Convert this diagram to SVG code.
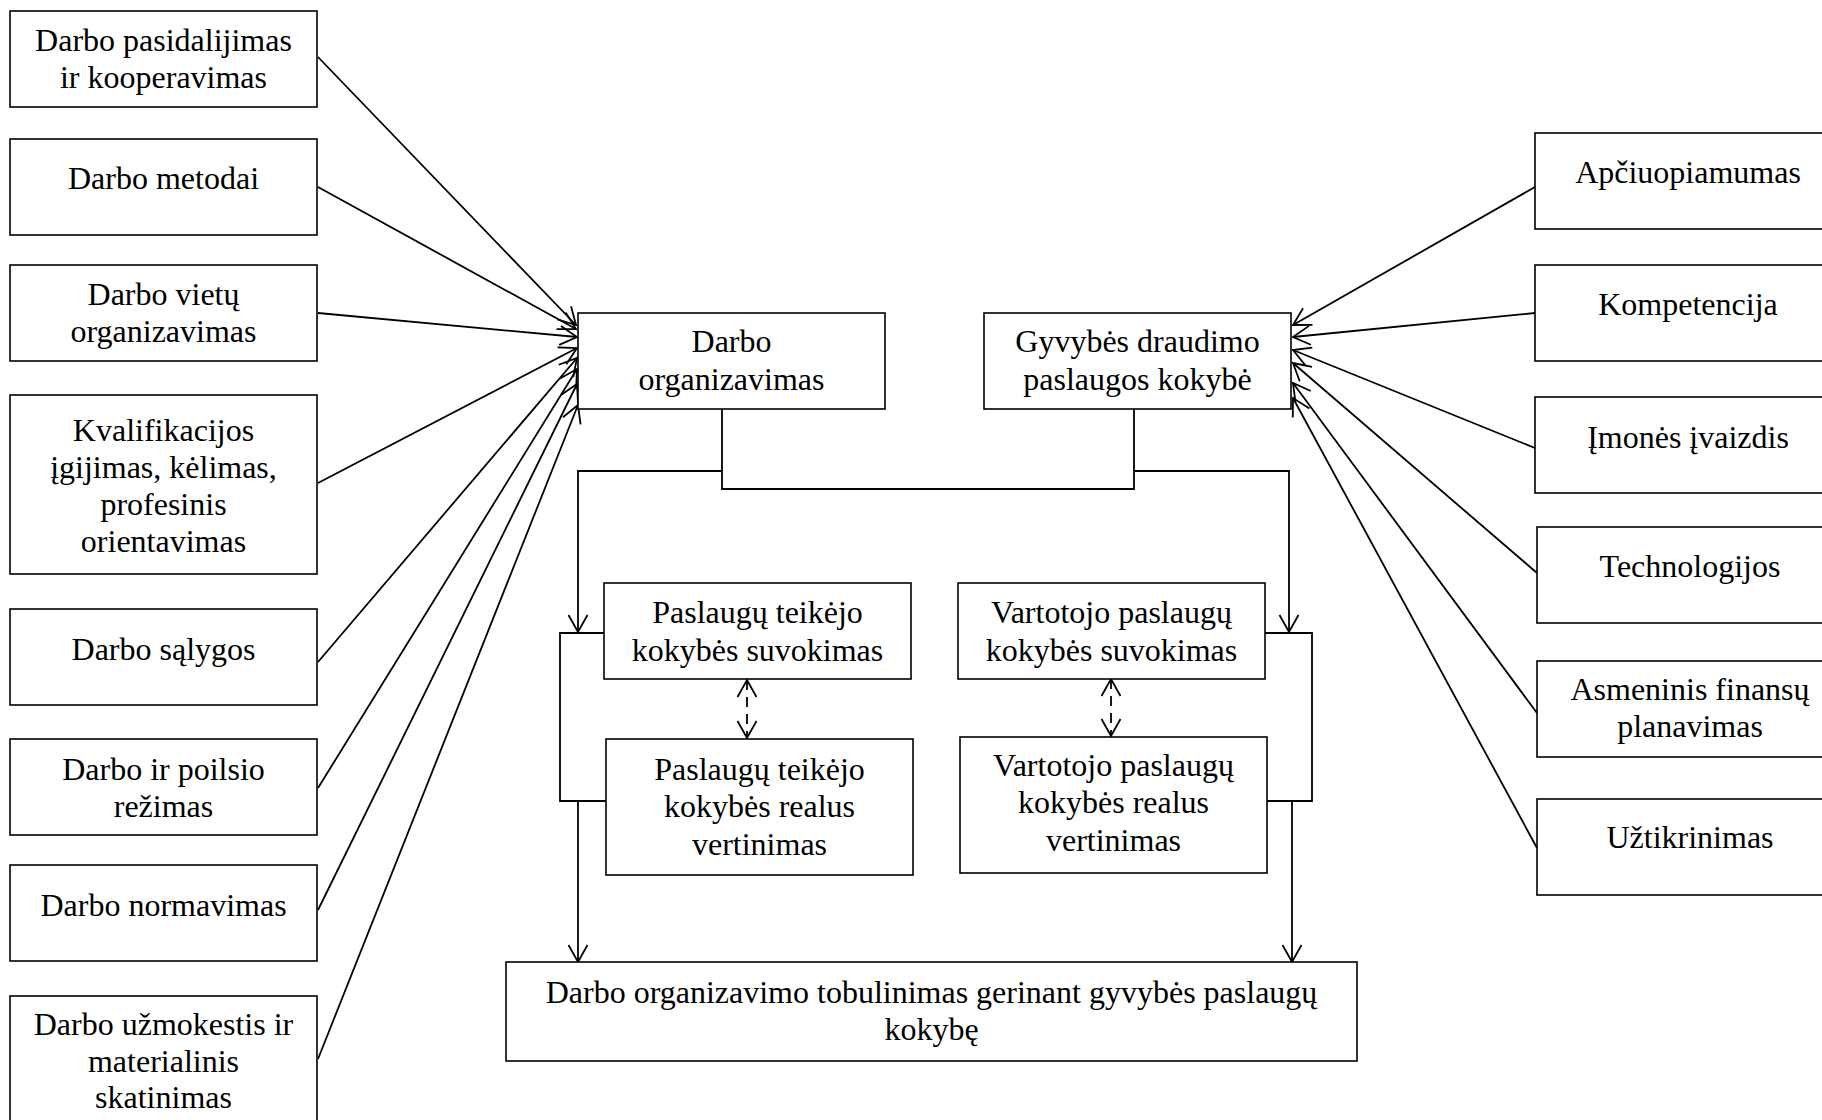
<svg xmlns="http://www.w3.org/2000/svg" width="1822" height="1120" viewBox="0 0 1822 1120">
<style>
.box{fill:#fff;stroke:#000;stroke-width:1.6}
.t{font-family:"Liberation Serif","Times New Roman",serif;font-size:32px;fill:#000;text-anchor:middle}
.c{fill:none;stroke:#000;stroke-width:1.8}
.d{fill:none;stroke:#000;stroke-width:1.8;stroke-dasharray:10 7}
</style>
<defs>
<marker id="ah" markerUnits="userSpaceOnUse" markerWidth="40" markerHeight="40" refX="0" refY="0" viewBox="-20 -20 40 40" orient="auto-start-reverse">
<path d="M-17,-9.5 L0,0 L-17,9.5" fill="none" stroke="#000" stroke-width="1.8"/>
</marker>
</defs>
<rect width="1822" height="1120" fill="#fff"/>

<g id="connectors">
<path class="c" d="M318,57 L576,325" marker-end="url(#ah)"/>
<path class="c" d="M318,187 L576,329" marker-end="url(#ah)"/>
<path class="c" d="M318,313 L577,337" marker-end="url(#ah)"/>
<path class="c" d="M318,483 L577,348" marker-end="url(#ah)"/>
<path class="c" d="M318,662 L577,358" marker-end="url(#ah)"/>
<path class="c" d="M318,788 L577,369" marker-end="url(#ah)"/>
<path class="c" d="M318,910 L577,384" marker-end="url(#ah)"/>
<path class="c" d="M318,1059 L578,405" marker-end="url(#ah)"/>

<path class="c" d="M1535,187 L1293,325" marker-end="url(#ah)"/>
<path class="c" d="M1535,313 L1293,337" marker-end="url(#ah)"/>
<path class="c" d="M1535,448 L1293,350" marker-end="url(#ah)"/>
<path class="c" d="M1537,573 L1293,363" marker-end="url(#ah)"/>
<path class="c" d="M1537,713 L1293,383" marker-end="url(#ah)"/>
<path class="c" d="M1537,848 L1293,398" marker-end="url(#ah)"/>

<path class="c" d="M722,409 V489 H1134 V409"/>
<path class="c" d="M722,471 H578 V632" marker-end="url(#ah)"/>
<path class="c" d="M1134,471 H1289 V632" marker-end="url(#ah)"/>
<path class="c" d="M604,633 H560 V801 H606"/>
<path class="c" d="M1265,633 H1312 V801 H1267"/>
<path class="c" d="M578,801 V962" marker-end="url(#ah)"/>
<path class="c" d="M1292,801 V962" marker-end="url(#ah)"/>
<path class="d" d="M747,680 V738" marker-start="url(#ah)" marker-end="url(#ah)"/>
<path class="d" d="M1111,679 V736" marker-start="url(#ah)" marker-end="url(#ah)"/>
</g>

<g id="n-pasidalijimas"><rect class="box" x="10" y="11" width="307" height="96"/>
<text class="t" x="163.5" y="51">Darbo pasidalijimas</text><text class="t" x="163.5" y="88">ir kooperavimas</text></g>
<g id="n-metodai"><rect class="box" x="10" y="139" width="307" height="96"/>
<text class="t" x="163.5" y="189">Darbo metodai</text></g>
<g id="n-vietu"><rect class="box" x="10" y="265" width="307" height="96"/>
<text class="t" x="163.5" y="305">Darbo vietų</text><text class="t" x="163.5" y="342">organizavimas</text></g>
<g id="n-kvalifikacija"><rect class="box" x="10" y="395" width="307" height="179"/>
<text class="t" x="163.5" y="441">Kvalifikacijos</text><text class="t" x="163.5" y="478">įgijimas, kėlimas,</text><text class="t" x="163.5" y="515">profesinis</text><text class="t" x="163.5" y="552">orientavimas</text></g>
<g id="n-salygos"><rect class="box" x="10" y="609" width="307" height="96"/>
<text class="t" x="163.5" y="660">Darbo sąlygos</text></g>
<g id="n-poilsio"><rect class="box" x="10" y="739" width="307" height="96"/>
<text class="t" x="163.5" y="780">Darbo ir poilsio</text><text class="t" x="163.5" y="817">režimas</text></g>
<g id="n-normavimas"><rect class="box" x="10" y="865" width="307" height="96"/>
<text class="t" x="163.5" y="916">Darbo normavimas</text></g>
<g id="n-uzmokestis"><rect class="box" x="10" y="996" width="307" height="160"/>
<text class="t" x="163.5" y="1035">Darbo užmokestis ir</text><text class="t" x="163.5" y="1072">materialinis</text><text class="t" x="163.5" y="1108">skatinimas</text></g>

<g id="n-darbo-org"><rect class="box" x="578" y="313" width="307" height="96"/>
<text class="t" x="731.5" y="352">Darbo</text><text class="t" x="731.5" y="390">organizavimas</text></g>
<g id="n-gyvybes"><rect class="box" x="984" y="313" width="307" height="96"/>
<text class="t" x="1137.5" y="352">Gyvybės draudimo</text><text class="t" x="1137.5" y="390">paslaugos kokybė</text></g>

<g id="n-teikejo-suvokimas"><rect class="box" x="604" y="583" width="307" height="96"/>
<text class="t" x="757.5" y="623">Paslaugų teikėjo</text><text class="t" x="757.5" y="661">kokybės suvokimas</text></g>
<g id="n-teikejo-realus"><rect class="box" x="606" y="739" width="307" height="136"/>
<text class="t" x="759.5" y="780">Paslaugų teikėjo</text><text class="t" x="759.5" y="817">kokybės realus</text><text class="t" x="759.5" y="855">vertinimas</text></g>
<g id="n-vartotojo-suvokimas"><rect class="box" x="958" y="583" width="307" height="96"/>
<text class="t" x="1111.5" y="623">Vartotojo paslaugų</text><text class="t" x="1111.5" y="661">kokybės suvokimas</text></g>
<g id="n-vartotojo-realus"><rect class="box" x="960" y="737" width="307" height="136"/>
<text class="t" x="1113.5" y="776">Vartotojo paslaugų</text><text class="t" x="1113.5" y="813">kokybės realus</text><text class="t" x="1113.5" y="851">vertinimas</text></g>

<g id="n-tobulinimas"><rect class="box" x="506" y="962" width="851" height="99"/>
<text class="t" x="931.5" y="1003">Darbo organizavimo tobulinimas gerinant gyvybės paslaugų</text><text class="t" x="931.5" y="1040">kokybę</text></g>

<g id="n-apciuopiamumas"><rect class="box" x="1535" y="133" width="307" height="96"/>
<text class="t" x="1688" y="183">Apčiuopiamumas</text></g>
<g id="n-kompetencija"><rect class="box" x="1535" y="265" width="307" height="96"/>
<text class="t" x="1688" y="315">Kompetencija</text></g>
<g id="n-ivaizdis"><rect class="box" x="1535" y="397" width="307" height="96"/>
<text class="t" x="1688" y="448">Įmonės įvaizdis</text></g>
<g id="n-technologijos"><rect class="box" x="1537" y="527" width="307" height="96"/>
<text class="t" x="1690" y="577">Technologijos</text></g>
<g id="n-finansu"><rect class="box" x="1537" y="661" width="307" height="96"/>
<text class="t" x="1690" y="700">Asmeninis finansų</text><text class="t" x="1690" y="737">planavimas</text></g>
<g id="n-uztikrinimas"><rect class="box" x="1537" y="799" width="307" height="96"/>
<text class="t" x="1690" y="848">Užtikrinimas</text></g>
</svg>
